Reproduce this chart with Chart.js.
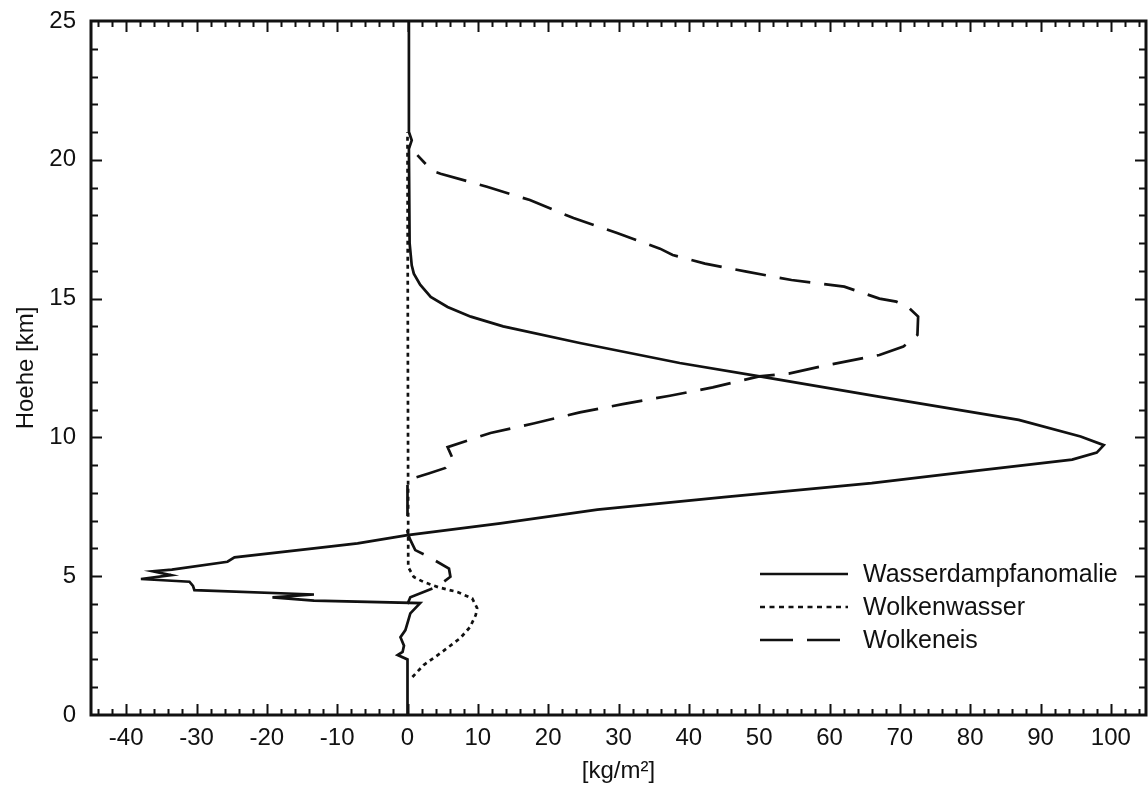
<!DOCTYPE html>
<html>
<head>
<meta charset="utf-8">
<script src="https://cdn.jsdelivr.net/npm/chart.js@4.4.1/dist/chart.umd.min.js"></script>
<style>
  html, body { margin: 0; padding: 0; background: #fff; }
  #wrap { width: 1148px; height: 786px; }
</style>
</head>
<body>
<div id="wrap"><canvas id="profile" width="1148" height="786"></canvas></div>
<script>
// tick labels
const xTicks = [-40, -30, -20, -10, 0, 10, 20, 30, 40, 50, 60, 70, 80, 90, 100]
const yTicks = [0, 5, 10, 15, 20, 25]

// Wasserdampfanomalie (solid), path from bottom to top
const vaporValue = [0, 0, -1.4, -0.7, -0.5, -1.0, -0.3, 0.1, 0.4, 1.8, -13.3, -19.2, -13.3, -30.3, -30.5, -31.0,
  -37.9, -33.6, -36.2, -33.5, -25.6, -24.6, -13.3, -7.1, 0, 13.2, 27, 45, 66, 81, 94.5, 98, 99, 95.7, 86.9,
  67, 50.5, 38.7, 24.5, 13.6, 9, 5.7, 3.3, 1.8, 0.9, 0.6, 0.3, 0.2, 0.6, 0.2, 0.2]
const vaporHeight = [0, 2.0, 2.16, 2.27, 2.5, 2.8, 3.06, 3.4, 3.66, 4.03, 4.12, 4.24, 4.34, 4.5, 4.65, 4.8,
  4.9, 5.04, 5.18, 5.24, 5.52, 5.68, 6.0, 6.18, 6.48, 6.9, 7.4, 7.85, 8.35, 8.8, 9.2, 9.45, 9.72, 10.03, 10.63,
  11.47, 12.18, 12.68, 13.4, 14.0, 14.35, 14.7, 15.06, 15.5, 15.9, 16.2, 17.0, 20.4, 20.7, 21.0, 25]

// Wolkenwasser (dotted)
const waterValue = [0.7, 2.3, 4.7, 7.5, 8.9, 9.7, 9.9, 9.2, 7.1, 4.4, 2.3, 0.9, 0.1, 0.1, 0]
const waterHeight = [1.37, 1.8, 2.23, 2.77, 3.17, 3.6, 3.85, 4.2, 4.43, 4.6, 4.79, 4.97, 5.33, 6.2, 21]

// Wolkeneis (dashed)
const iceValue = [0, 0.4, 4.2, 6.1, 5.9, 3.0, 1.1, 0.3, 0, 0, 0.1, 3.0, 5.4, 6.5, 5.7, 11.8, 17.9, 24.5, 30.6,
  37.3, 43.4, 50, 54.2, 59.6, 67.1, 70.5, 72.5, 72.6, 71.1, 69.5, 67.1, 62.1, 54.6, 48.2, 42.3, 37.7, 35.9,
  29.8, 23.6, 17.4, 11.3, 4.7, 3.5, 1.4]
const iceHeight = [4.0, 4.24, 4.62, 4.98, 5.27, 5.7, 5.94, 6.36, 6.6, 8.3, 8.47, 8.7, 8.9, 9.19, 9.65, 10.16,
  10.5, 10.9, 11.2, 11.5, 11.8, 12.2, 12.3, 12.6, 12.97, 13.27, 13.69, 14.35, 14.71, 14.89, 15.0, 15.43, 15.67,
  15.97, 16.26, 16.57, 16.8, 17.36, 17.9, 18.55, 19.03, 19.5, 19.6, 20.17]

const toPoints = (xs, ys) => xs.map((v, i) => ({ x: v, y: ys[i] }))

const ink = '#111'
const fontFamily = '"Liberation Sans", Arial, Helvetica, sans-serif'

const framePlugin = {
  id: 'frame',
  afterDatasetsDraw(chart) {
    const { ctx, chartArea: a, scales: { x, y } } = chart
    ctx.save()
    ctx.strokeStyle = ink
    ctx.lineWidth = 2
    ctx.beginPath()
    // x ticks, bottom and top, minor every 2
    for (let v = -44; v <= 104; v += 2) {
      const px = Math.round(x.getPixelForValue(v)) + 0.5
      const len = v % 10 === 0 ? 11 : 6
      ctx.moveTo(px, a.bottom)
      ctx.lineTo(px, a.bottom - len)
      ctx.moveTo(px, a.top)
      ctx.lineTo(px, a.top + len)
    }
    // y ticks, left and right, minor every 1
    for (let v = 1; v < 25; v++) {
      const py = Math.round(y.getPixelForValue(v)) + 0.5
      const len = v % 5 === 0 ? 11 : 7
      ctx.moveTo(a.left, py)
      ctx.lineTo(a.left + len, py)
      ctx.moveTo(a.right, py)
      ctx.lineTo(a.right - len, py)
    }
    ctx.stroke()
    ctx.lineWidth = 3
    ctx.strokeRect(a.left, a.top, a.right - a.left, a.bottom - a.top)
    ctx.restore()
  }
}

const legendPlugin = {
  id: 'inlineLegend',
  afterDraw(chart) {
    const { ctx } = chart
    const x0 = 760, x1 = 848, textX = 863
    const rows = [574, 607, 640]
    ctx.save()
    ctx.font = '25px ' + fontFamily
    ctx.textBaseline = 'middle'
    ctx.fillStyle = ink
    chart.data.datasets.forEach((ds, i) => {
      ctx.beginPath()
      ctx.strokeStyle = ink
      ctx.lineWidth = ds.borderWidth
      ctx.setLineDash(ds.legendDash || ds.borderDash || [])
      ctx.moveTo(x0, rows[i])
      ctx.lineTo(x1, rows[i])
      ctx.stroke()
      ctx.setLineDash([])
      ctx.fillText(ds.label, textX, rows[i] + 1)
    })
    ctx.restore()
  }
}

const common = { showLine: true, fill: false, pointRadius: 0, borderColor: ink, borderWidth: 2.7, tension: 0 }

new Chart(document.getElementById('profile'), {
  type: 'scatter',
  data: {
    datasets: [
      { ...common, label: 'Wasserdampfanomalie', data: toPoints(vaporValue, vaporHeight) },
      { ...common, label: 'Wolkenwasser', data: toPoints(waterValue, waterHeight), borderDash: [4, 4], legendDash: [5, 4.5] },
      { ...common, label: 'Wolkeneis', data: toPoints(iceValue, iceHeight), borderDash: [31, 14], legendDash: [33, 14] }
    ]
  },
  options: {
    responsive: false,
    animation: false,
    devicePixelRatio: 1,
    layout: { padding: { top: 21, right: 2, left: 0, bottom: 0 } },
    plugins: { legend: { display: false }, tooltip: { enabled: false } },
    scales: {
      x: {
        type: 'linear', min: -45, max: 105,
        grid: { display: false, drawTicks: false },
        border: { display: false },
        afterBuildTicks: s => { s.ticks = xTicks.map(v => ({ value: v })) },
        afterFit: s => { s.height = 71; s.paddingLeft = 0; s.paddingRight = 0 },
        ticks: { color: ink, font: { size: 24, family: fontFamily }, padding: 9, maxRotation: 0, autoSkip: false },
        title: { display: true, text: '[kg/m²]', color: ink, font: { size: 24, family: fontFamily }, padding: { top: 0, bottom: 0 } }
      },
      y: {
        type: 'linear', min: 0, max: 25,
        grid: { display: false, drawTicks: false },
        border: { display: false },
        afterBuildTicks: s => { s.ticks = yTicks.map(v => ({ value: v })) },
        afterFit: s => { s.width = 91; s.paddingTop = 0; s.paddingBottom = 0 },
        ticks: { color: ink, font: { size: 24, family: fontFamily }, padding: 15 },
        title: { display: true, text: 'Hoehe [km]', color: ink, font: { size: 24, family: fontFamily }, padding: { top: 12, bottom: 0 } }
      }
    }
  },
  plugins: [framePlugin, legendPlugin]
})
</script>
</body>
</html>
